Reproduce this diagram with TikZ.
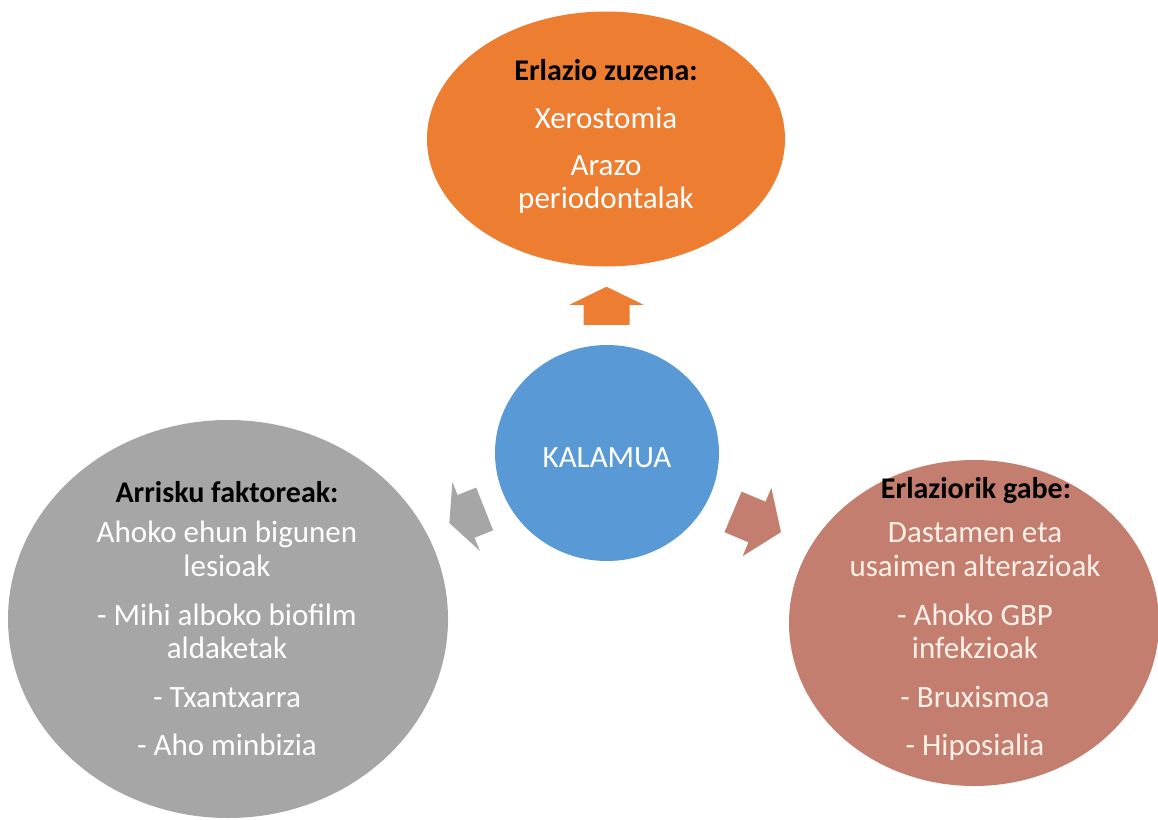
\documentclass[tikz,border=0pt]{standalone}
\usepackage{fontspec}
\setmainfont{Carlito}
\usetikzlibrary{shapes.geometric,calc}
\definecolor{cOrange}{RGB}{237,125,49}
\definecolor{cBlue}{RGB}{88,153,214}
\definecolor{cGray}{RGB}{166,166,166}
\definecolor{cSalmon}{RGB}{196,126,111}
\definecolor{cCream}{RGB}{252,240,232}
\tikzset{
  blob/.style={ellipse, inner sep=0pt, outer sep=0pt, draw=none},
  txt/.style={anchor=base, inner sep=0pt, font=\fontsize{31}{34}\selectfont, text=white},
  hdr/.style={anchor=base, inner sep=0pt, font=\fontsize{30}{34}\selectfont\bfseries, text=black},
  pics/barrow/.style n args={4}{code={
    \path[pic actions] (-#1/2,-#4) -- (#1/2-#2,-#4) -- (#1/2-#2,-#3) -- (#1/2,0)
      -- (#1/2-#2,#3) -- (#1/2-#2,#4) -- (-#1/2,#4) -- cycle;}}
}
\begin{document}
\begin{tikzpicture}[x=1pt,y=-1pt]
\useasboundingbox[fill=white] (0,0) rectangle (1158,819);
% shapes
\node[blob, fill=cOrange, minimum width=358pt, minimum height=255pt] (zuz) at (606,139) {};
\node[blob, fill=cBlue, minimum width=224pt, minimum height=216pt] (kal) at (607,453) {};
\node[blob, fill=cGray, minimum width=440pt, minimum height=398pt] (arr) at (228,619) {};
\node[blob, fill=cSalmon, minimum width=370pt, minimum height=326pt] (gab) at (974,623) {};
% block arrows
\pic[fill=cOrange, rotate=90] at ($(kal.north)!0.5!(zuz.south)$) {barrow={38}{18}{37}{23}};
\pic[fill=cGray, rotate=201.7] at (467,516) {barrow={38}{18}{37}{23}};
\pic[fill=cSalmon, rotate=-22.8] at (757,522) {barrow={52}{26}{37}{22}};
% texts
\node[txt] (kalt) at (607,467) {KALAMUA};
\node[hdr] (z0) at (606,80) {Erlazio zuzena:};
\node[txt] (z1) at (606,128) {Xerostomia};
\node[txt] (z2) at (606,175) {Arazo};
\node[txt] (z3) at (606,208) {periodontalak};
\node[hdr] (a0) at (227,502) {Arrisku faktoreak:};
\node[txt] (a1) at (227,542) {Ahoko ehun bigunen};
\node[txt] (a2) at (227,576) {lesioak};
\node[txt] (a3) at (227,625) {- Mihi alboko biofilm};
\node[txt] (a4) at (227,658) {aldaketak};
\node[txt] (a5) at (227,707) {- Txantxarra};
\node[txt] (a6) at (227,755) {- Aho minbizia};
\node[hdr] (g0) at (976,498) {Erlaziorik gabe:};
\node[txt, text=cCream] (g1) at (975,542) {Dastamen eta};
\node[txt, text=cCream] (g2) at (975,576) {usaimen alterazioak};
\node[txt, text=cCream] (g3) at (975,625) {- Ahoko GBP};
\node[txt, text=cCream] (g4) at (975,658) {infekzioak};
\node[txt, text=cCream] (g5) at (975,707) {- Bruxismoa};
\node[txt, text=cCream] (g6) at (975,755) {- Hiposialia};
\end{tikzpicture}
\end{document}
